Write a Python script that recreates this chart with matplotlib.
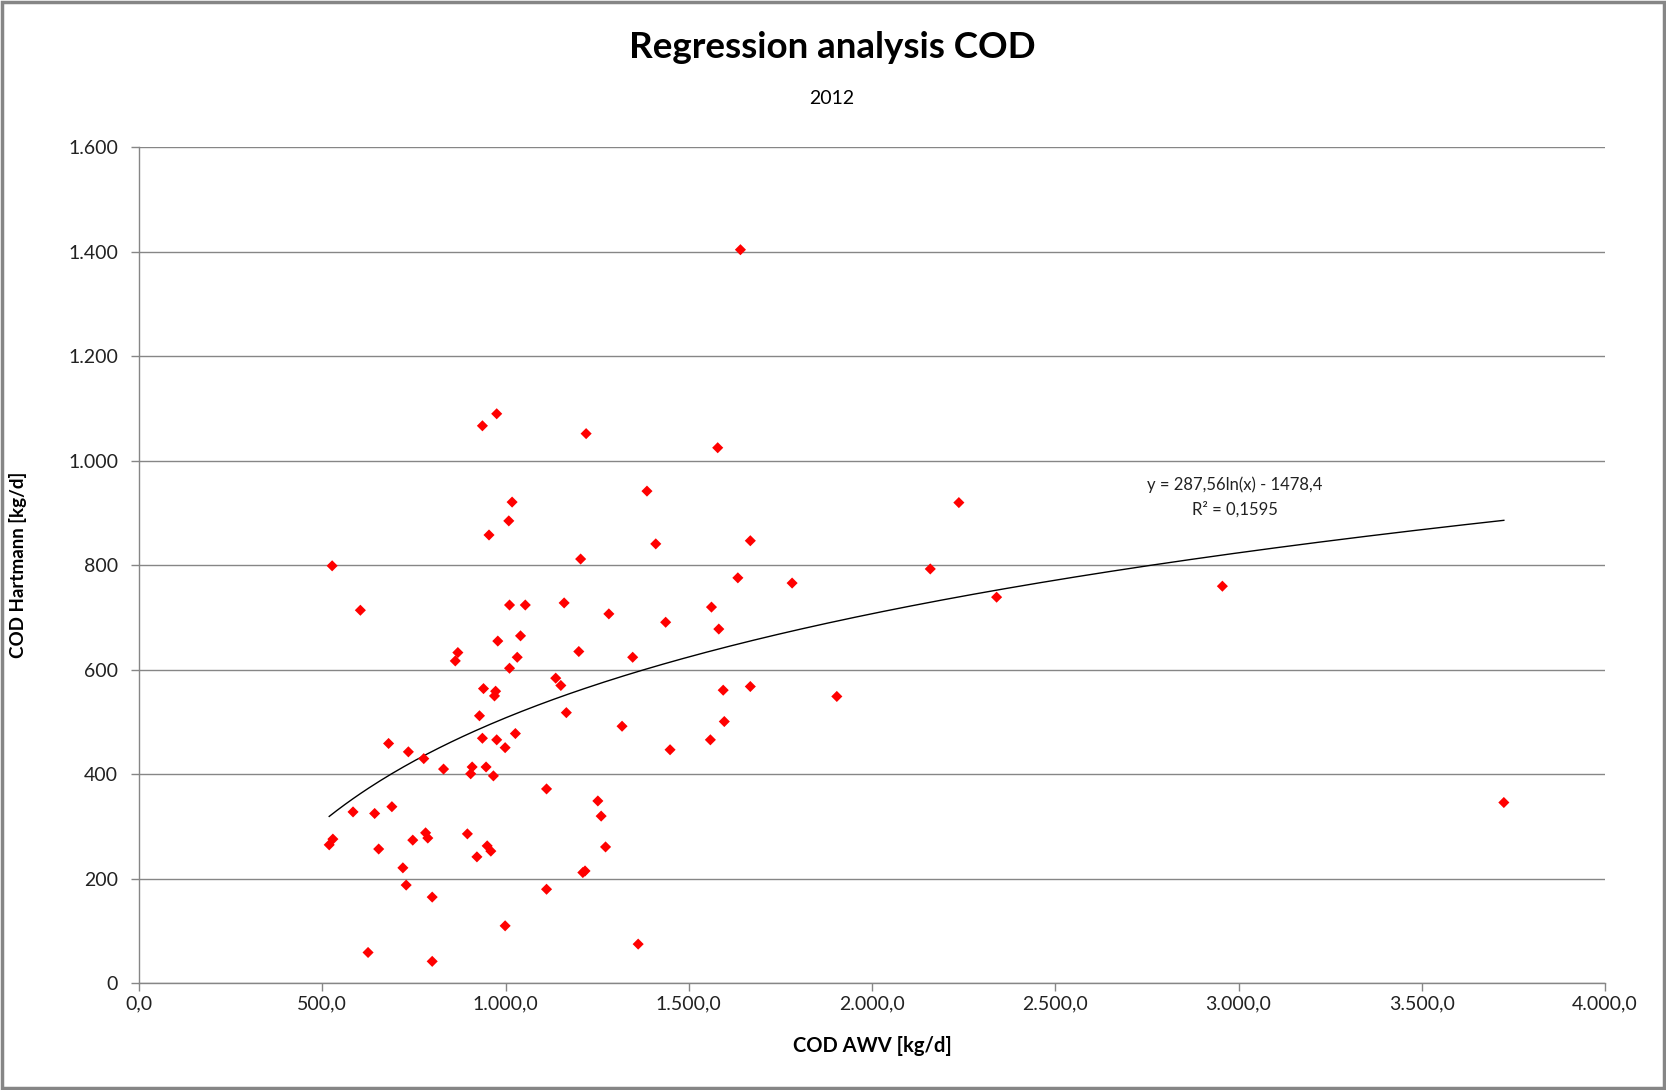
import numpy as np
import matplotlib
matplotlib.use("Agg")
import matplotlib.pyplot as plt
from matplotlib.ticker import FuncFormatter
from matplotlib.patches import Rectangle

plt.rcParams['font.family'] = ['Lato', 'DejaVu Sans']

# COD AWV [kg/d] vs COD Hartmann [kg/d], 2012
cod_awv = [976, 937, 1220, 1579, 1386, 1018, 1009, 955, 1410, 1668,
           527, 1205, 1634, 1782, 604, 1011, 1054, 1160, 1282, 1437,
           1562, 1582, 979, 1041, 870, 863, 1032, 1200, 1347, 1011,
           1137, 1151, 940, 973, 970, 1594, 1668, 929, 1166, 1318,
           1597, 937, 976, 1027, 999, 1559, 1449, 681, 735, 777,
           831, 909, 947, 905, 967, 1112, 1252, 1261, 1273, 584,
           643, 690, 519, 529, 654, 747, 782, 788, 896, 950,
           960, 922, 720, 729, 800, 1211, 1217, 1112, 999, 1362,
           625, 800, 2159, 2237, 2340, 2956, 1904, 3724, 1641]
cod_hartmann = [1090, 1067, 1052, 1025, 942, 921, 885, 858, 841, 847,
                799, 812, 776, 766, 714, 724, 724, 728, 707, 691,
                720, 678, 655, 665, 633, 617, 624, 635, 624, 603,
                584, 570, 564, 559, 550, 561, 568, 512, 518, 492,
                501, 469, 466, 478, 451, 466, 447, 459, 443, 430,
                410, 414, 414, 401, 397, 372, 349, 320, 261, 328,
                325, 338, 265, 276, 257, 274, 288, 278, 286, 263,
                253, 242, 221, 188, 165, 212, 215, 180, 110, 75,
                59, 42, 793, 920, 739, 760, 549, 346, 1404]

# logarithmic trendline as given in the chart
coef_a = 287.56
coef_b = -1478.4
r_squared = 0.1595

x_ticks = np.arange(0, 4001, 500)
y_ticks = np.arange(0, 1601, 200)

W, H = 1666, 1090
fig = plt.figure(figsize=(W / 100, H / 100), dpi=100)
ax = fig.add_axes([139 / W, 1 - 983.3 / H, (1605 - 139) / W, (983.3 - 147.3) / H])

grey = "#868686"

ax.scatter(cod_awv, cod_hartmann, marker="D", s=32, color="#ff0000",
           edgecolors="none", zorder=3)

tx = np.linspace(min(cod_awv), max(cod_awv), 300)
ty = coef_a * np.log(tx) + coef_b
ax.plot(tx, ty, color="black", lw=1.0, zorder=2)

ax.set_xlim(0, 4000)
ax.set_ylim(0, 1600)
ax.set_xticks(x_ticks)
ax.set_yticks(y_ticks)


def fmt_x(v, pos):
    return f"{v:,.1f}".replace(",", "X").replace(".", ",").replace("X", ".")


def fmt_y(v, pos):
    return f"{v:,.0f}".replace(",", ".")


ax.xaxis.set_major_formatter(FuncFormatter(fmt_x))
ax.yaxis.set_major_formatter(FuncFormatter(fmt_y))

ax.grid(axis="y", color=grey, lw=1.0)
ax.set_axisbelow(True)
for side in ["top", "right"]:
    ax.spines[side].set_visible(False)
for side in ["left", "bottom"]:
    ax.spines[side].set_color(grey)
    ax.spines[side].set_linewidth(1.0)
ax.tick_params(axis="both", direction="out", length=6, width=1, color=grey,
               labelsize=14, labelcolor="#222222")
ax.tick_params(axis="x", pad=3)
ax.tick_params(axis="y", pad=9)

ax.set_xlabel("COD AWV [kg/d]", fontsize=14.5, fontweight="bold", labelpad=17)
ax.set_ylabel("COD Hartmann [kg/d]", fontsize=13.5, fontweight="bold")
ax.yaxis.set_label_coords(-0.0765, 0.5)

ax.text(2990, 955, "y = 287,56ln(x) - 1478,4", ha="center", va="center",
        fontsize=12, color="#222222")
ax.text(2990, 906, "R² = 0,1595", ha="center", va="center",
        fontsize=12, color="#222222")

fig.text(832 / W, 1 - 47 / H, "Regression analysis COD", ha="center", va="center",
         fontsize=26.5, fontweight="bold")
fig.text(832 / W, 1 - 99 / H, "2012", ha="center", va="center", fontsize=14)

fig.patches.append(Rectangle((2 / W, 2 / H), 1 - 4 / W, 1 - 4 / H,
                             transform=fig.transFigure, fill=False,
                             edgecolor=grey, lw=2.5))

fig.savefig("out.png", dpi=100)
